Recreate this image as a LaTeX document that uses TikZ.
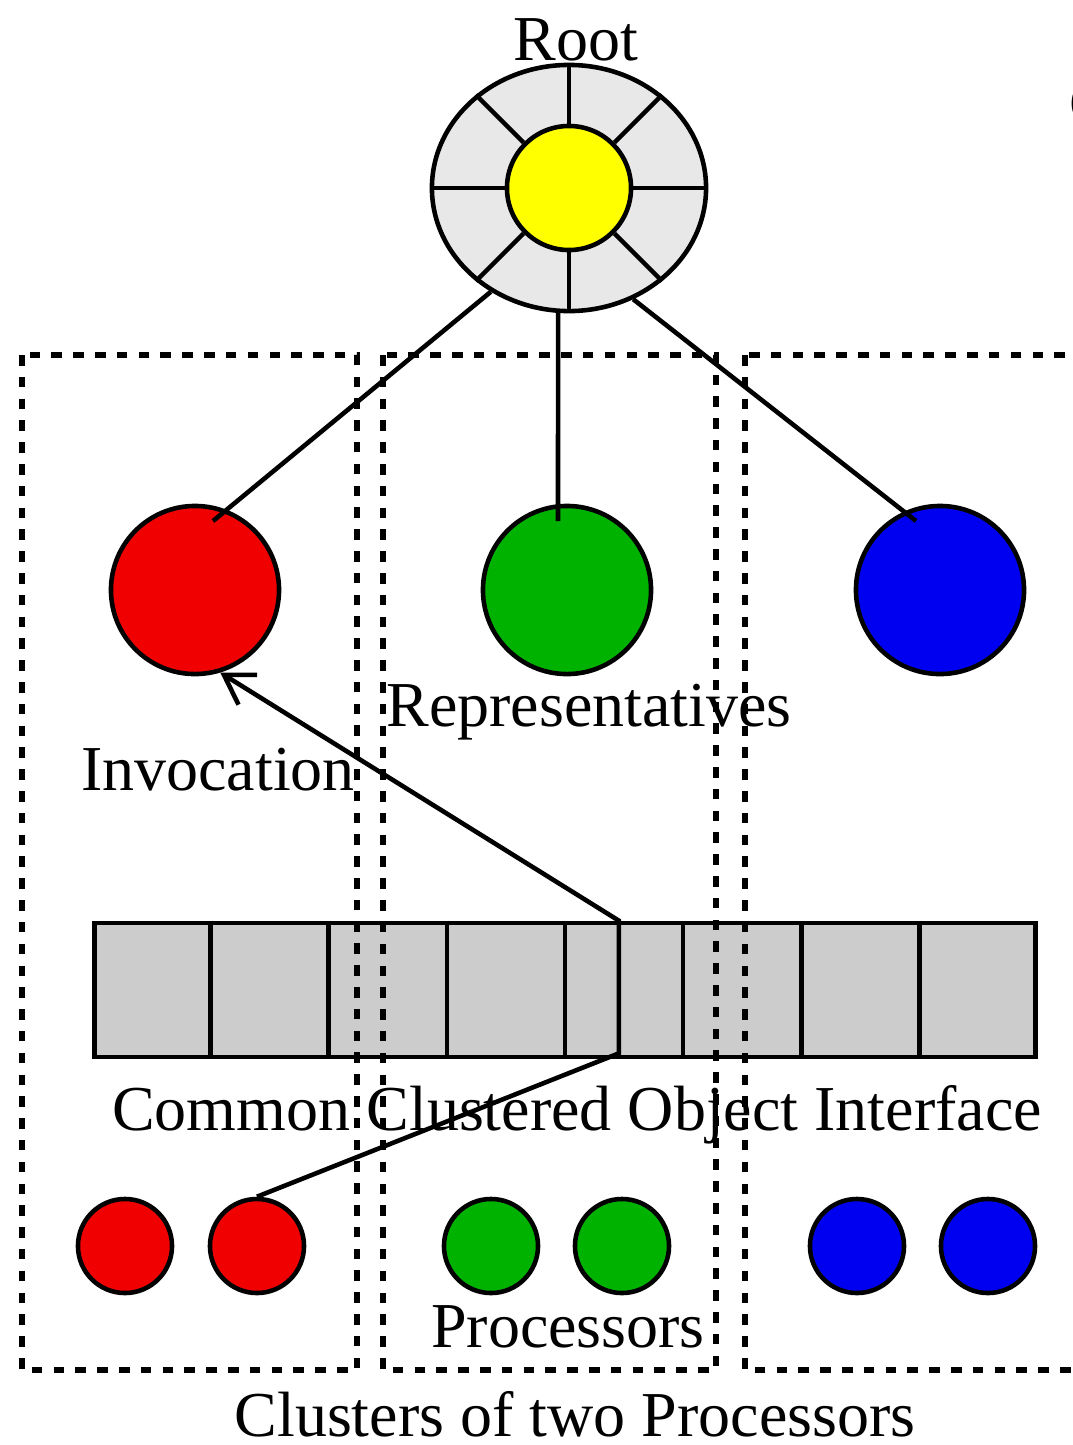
\documentclass[tikz,border=0pt]{standalone}
\usepackage{fontspec}
\setmainfont{Liberation Serif}
\usepackage{tikz}
\usetikzlibrary{calc,positioning,arrows.meta,shapes.geometric}

\definecolor{repred}{RGB}{240,0,0}
\definecolor{repgreen}{RGB}{0,178,0}
\definecolor{repblue}{RGB}{0,0,240}
\definecolor{hubyellow}{RGB}{255,255,0}
\definecolor{rootgray}{RGB}{232,232,232}
\definecolor{cellgray}{RGB}{204,204,204}

\begin{document}
\begin{tikzpicture}[x=0.01cm, y=-0.01cm, line width=1.3pt,
    every node/.style={font=\fontsize{18.2}{22}\selectfont},
    rep/.style={draw, circle, minimum size=1.68cm, inner sep=0pt},
    proc/.style={draw, circle, minimum size=0.94cm, inner sep=0pt},
    cluster/.style={dash pattern=on 3pt off 3.2pt, line width=1.7pt},
    txt/.style={anchor=base, inner sep=0pt}]
    \useasboundingbox (0,0) rectangle (1072,1445);

    % Root
    \node [txt] (rootlbl) at (576,60) {Root};
    \node [draw, ellipse, fill=rootgray, minimum width=2.74cm, minimum height=2.46cm, inner sep=0pt] (root) at (569,188) {};
    \node [draw, circle, fill=hubyellow, minimum size=1.24cm, inner sep=0pt] (hub) at (root.center) {};
    \foreach \a in {0,45,...,315}
        \draw (hub.\a) -- (root.\a);

    % Representatives
    \node [rep, fill=repred] (repR) at (195,590) {};
    \node [rep, fill=repgreen] (repG) at (567,590) {};
    \node [rep, fill=repblue] (repB) at (940,590) {};

    \draw (root.-127) -- ($(repR)+(18,-69)$);
    \draw (root.-95) -- ($(repG)+(-9,-69)$);
    \draw (root.-60) -- ($(repB)+(-24,-69)$);

    \node [txt] (replbl) at (589,726) {Representatives};
    \node [txt] (invlbl) at (218,790) {Invocation};

    % Interface
    \node [draw, fill=cellgray, minimum width=9.4cm, minimum height=1.34cm, inner sep=0pt] (iface) at (565,990) {};
    \foreach \i in {1,...,7}
        \draw ($(iface.north west)!\i/8!(iface.north east)$) -- ($(iface.south west)!\i/8!(iface.south east)$);
    \node [txt] (ifacelbl) at (577,1130) {Common Clustered Object Interface};

    % Processors
    \node [proc, fill=repred] (procR1) at (125,1246) {};
    \node [proc, fill=repred] (procR2) at (257,1246) {};
    \node [proc, fill=repgreen] (procG1) at (491,1246) {};
    \node [proc, fill=repgreen] (procG2) at (622,1246) {};
    \node [proc, fill=repblue] (procB1) at (857,1246) {};
    \node [proc, fill=repblue] (procB2) at (988,1246) {};
    \node [txt] (proclbl) at (568,1347) {Processors};

    \coordinate (callin) at ($(iface.south west)!0.557!(iface.south east)+(0,-6)$);
    \coordinate (callout) at ($(iface.north west)!0.557!(iface.north east)$);
    \draw [-{Straight Barb[length=8pt,width=10pt]}] (procR2.north) -- (callin) -- (callout) -- (repR.-73);

    % Clusters
    \draw [cluster] (22,355) rectangle (357,1370);
    \draw [cluster] (383,355) rectangle (716,1370);
    \draw [cluster] (745,355) rectangle (1100,1370);
    \node [txt] (clulbl) at (575,1436) {Clusters of two Processors};
    \node [txt, anchor=base west] (cut) at (1067,124) {C};

\end{tikzpicture}
\end{document}
